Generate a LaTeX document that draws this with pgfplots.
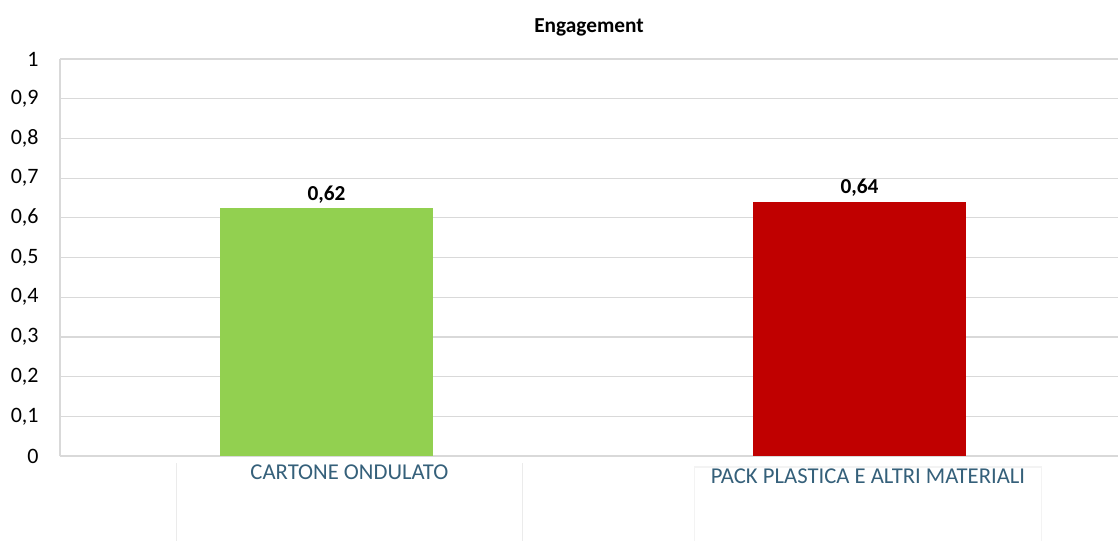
\documentclass[border=0pt]{standalone}
\usepackage{fontspec}
\setmainfont{Carlito}
\usepackage{pgfplots}
\pgfplotsset{compat=1.18}
\definecolor{cgreen}{HTML}{92D050}
\definecolor{cred}{HTML}{C00000}
\definecolor{cgrid}{HTML}{D9D9D9}
\definecolor{clab}{HTML}{35607A}
\definecolor{cbox}{HTML}{EBEBEB}
\definecolor{cbox2}{HTML}{F3F3F3}
\begin{document}
\begin{tikzpicture}
\useasboundingbox (-45pt,-63pt) rectangle (793.5pt,342pt);
\begin{axis}[
  at={(0,0)}, anchor=south west,
  scale only axis,
  width=793.5pt, height=297.75pt,
  xmin=-0.5, xmax=1.485,
  ymin=0, ymax=1,
  ytick={0,0.1,...,1},
  xtick={0.043,1.016},
  xticklabels={CARTONE ONDULATO, \raisebox{-3pt}[\height][\depth]{PACK PLASTICA E ALTRI MATERIALI}},
  xticklabel style={text=clab, font=\fontsize{17}{19}\selectfont, yshift=-3pt},
  yticklabel style={font=\fontsize{16.5}{19}\selectfont, xshift=-12.5pt},
  /pgf/number format/assume math mode=true,
  /pgf/number format/use comma,
  major tick length=0pt,
  ymajorgrids,
  grid style={cgrid, line width=0.9pt},
  axis x line*=bottom, axis y line*=left,
  axis line style={cgrid, line width=0.9pt},
  ybar, bar width=0.4,
  clip=false,
  nodes near coords,
  point meta=explicit symbolic,
  nodes near coords style={font=\bfseries\fontsize{16}{18}\selectfont, anchor=south, yshift=0pt},
]
\addplot[fill=cgreen, draw=none, bar shift=0pt] coordinates {(0,0.625) [0,62]};
\addplot[fill=cred, draw=none, bar shift=0pt] coordinates {(1,0.641) [0,64]};
\draw[cbox, line width=0.8pt] (axis cs:-0.281,-0.0176) -- (axis cs:-0.281,-0.25);
\draw[cbox, line width=0.8pt] (axis cs:0.367,-0.0176) -- (axis cs:0.367,-0.25);
\draw[cbox2, line width=0.8pt] (axis cs:0.691,-0.25) -- (axis cs:0.691,-0.0277) -- (axis cs:1.342,-0.0277) -- (axis cs:1.342,-0.25);
\node[font=\bfseries\fontsize{16}{19}\selectfont] at (rel axis cs:0.5,1) [yshift=24pt] {Engagement};
\end{axis}
\end{tikzpicture}
\end{document}
